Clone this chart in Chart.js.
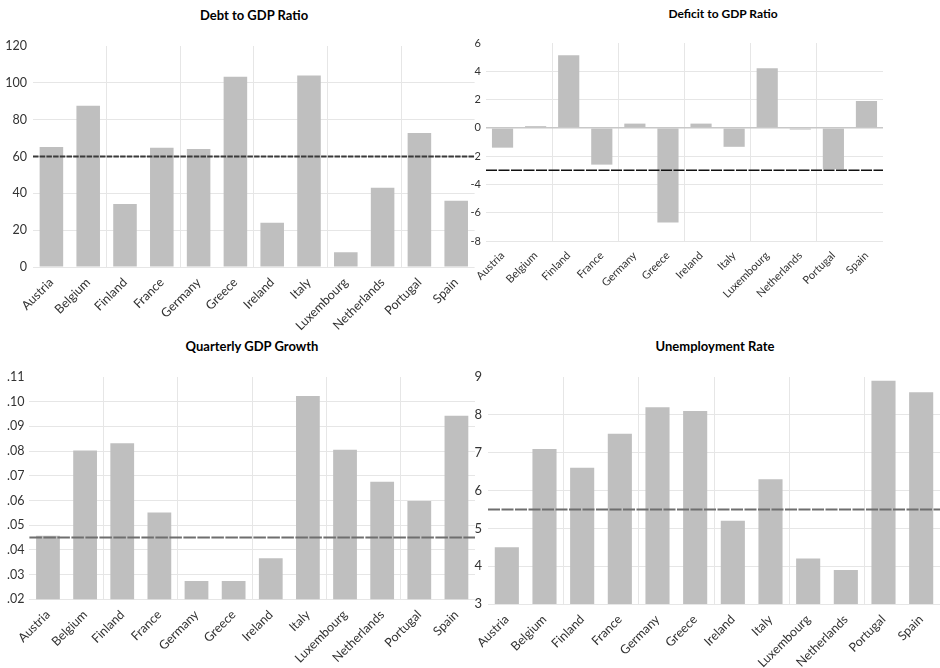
<!DOCTYPE html>
<html>
<head>
<meta charset="utf-8">
<script src="https://cdn.jsdelivr.net/npm/chart.js@4.4.1/dist/chart.umd.min.js"></script>
<style>
  body { margin: 0; background: #fff; width: 940px; height: 668px; overflow: hidden; position: relative; font-family: Lato, "Open Sans", sans-serif; }
  canvas { position: absolute; }
  .title { position: absolute; transform: translateX(-50%); font-weight: bold; color: #000; white-space: nowrap; line-height: 16px; }
</style>
</head>
<body>
<div class="title" style="left:254px; top:7px; font-size:13px;">Debt to GDP Ratio</div>
<div class="title" style="left:723px; top:6px; font-size:12px;">Deficit to GDP Ratio</div>
<div class="title" style="left:252px; top:338px; font-size:13px;">Quarterly GDP Growth</div>
<div class="title" style="left:715px; top:338px; font-size:13px;">Unemployment Rate</div>

<canvas id="debt" width="476" height="332" style="left:0; top:0;"></canvas>
<canvas id="deficit" width="485" height="322" style="left:455px; top:0;"></canvas>
<canvas id="growth" width="476" height="338" style="left:0; top:330px;"></canvas>
<canvas id="unemp" width="470" height="338" style="left:470px; top:330px;"></canvas>

<script>
const countries = ['Austria', 'Belgium', 'Finland', 'France', 'Germany', 'Greece', 'Ireland', 'Italy', 'Luxembourg', 'Netherlands', 'Portugal', 'Spain'];

const debtRatio = [65.2, 87.5, 34.2, 64.7, 64.1, 103.3, 24, 104, 8, 43, 72.8, 36];
const deficitRatio = [-1.4, 0.12, 5.14, -2.6, 0.3, -6.7, 0.3, -1.34, 4.22, -0.12, -2.92, 1.9];
const gdpGrowth = [0.0457, 0.0802, 0.0832, 0.0551, 0.0274, 0.0274, 0.0366, 0.1023, 0.0805, 0.0676, 0.0598, 0.0943];
const unemploymentRate = [4.5, 7.1, 6.6, 7.5, 8.2, 8.1, 5.2, 6.3, 4.2, 3.9, 8.9, 8.6];

// reference (threshold) lines
const debtLimit = 60;
const deficitLimit = -3;
const growthRef = 0.045;
const unempRef = 5.5;

const barColor = '#bfbfbf';
const gridColor = '#e6e6e6';

// horizontal dashed line across the plot at a given value
const refLine = {
  id: 'refLine',
  afterDatasetsDraw(chart, args, opts) {
    const y = chart.scales.y.getPixelForValue(opts.value);
    const { left, right } = chart.chartArea;
    const ctx = chart.ctx;
    ctx.save();
    ctx.strokeStyle = opts.color;
    ctx.lineWidth = opts.width;
    ctx.setLineDash(opts.dash);
    ctx.beginPath();
    ctx.moveTo(left, y);
    ctx.lineTo(right, y);
    ctx.stroke();
    ctx.restore();
  }
};

function panel(id, values, p) {
  new Chart(document.getElementById(id), {
    type: 'bar',
    data: {
      labels: countries,
      datasets: [{
        data: values,
        backgroundColor: barColor,
        borderWidth: 0,
        barPercentage: 0.64,
        categoryPercentage: 1
      }]
    },
    options: {
      responsive: false,
      animation: false,
      layout: { padding: { top: p.top, right: p.right, left: 0, bottom: 0 } },
      plugins: {
        legend: { display: false },
        tooltip: { enabled: false },
        refLine: p.line
      },
      scales: {
        x: {
          grid: {
            offset: true,
            drawTicks: false,
            color: c => (c.index > 0 && c.index % 2 === 0) ? gridColor : 'transparent'
          },
          border: { display: false },
          ticks: {
            autoSkip: false,
            minRotation: 45,
            maxRotation: 45,
            padding: 8,
            color: '#333333',
            font: { family: 'Lato', size: p.xFont }
          },
          afterFit: s => { s.height = p.xHeight; }
        },
        y: {
          min: p.min,
          max: p.max,
          grid: {
            drawTicks: false,
            color: c => {
              if (p.zeroLine && c.tick && c.tick.value === 0) return '#c8c8c8';
              if (c.tick && c.tick.value === p.max) return 'transparent';
              return gridColor;
            },
            lineWidth: c => (p.zeroLine && c.tick && c.tick.value === 0) ? 1.5 : 1
          },
          border: { display: false },
          ticks: {
            stepSize: p.step,
            padding: p.yPad,
            color: '#333333',
            font: { family: 'Lato', size: p.yFont },
            callback: p.fmt || (v => v)
          },
          afterFit: s => { s.width = p.yWidth; }
        }
      }
    },
    plugins: [refLine]
  });
}

panel('debt', debtRatio, {
  top: 46, right: 1.4, xHeight: 65, yWidth: 33, yPad: 6,
  min: 0, max: 120, step: 20, xFont: 12.5, yFont: 12.5,
  line: { value: debtLimit, color: '#3a3a3a', width: 2, dash: [5.5, 1.2] }
});

panel('deficit', deficitRatio, {
  top: 43, right: 57, xHeight: 81, yWidth: 31, yPad: 5,
  min: -8, max: 6, step: 2, xFont: 11, yFont: 11, zeroLine: true,
  line: { value: deficitLimit, color: '#111111', width: 1.5, dash: [11, 1.5] }
});

panel('growth', gdpGrowth, {
  top: 47, right: 1, xHeight: 68.7, yWidth: 29.4, yPad: 5,
  min: 0.02, max: 0.11, step: 0.01, xFont: 12.5, yFont: 12.5,
  fmt: v => (Math.round(v * 100) / 100).toFixed(2).replace(/^0/, ''),
  line: { value: growthRef, color: '#6e6e6e', width: 2, dash: [12.5, 1.5] }
});

panel('unemp', unemploymentRate, {
  top: 47, right: 0, xHeight: 64, yWidth: 18, yPad: 6,
  min: 3, max: 9, step: 1, xFont: 12.5, yFont: 13,
  line: { value: unempRef, color: '#6e6e6e', width: 2, dash: [12, 1.5] }
});
</script>
</body>
</html>
